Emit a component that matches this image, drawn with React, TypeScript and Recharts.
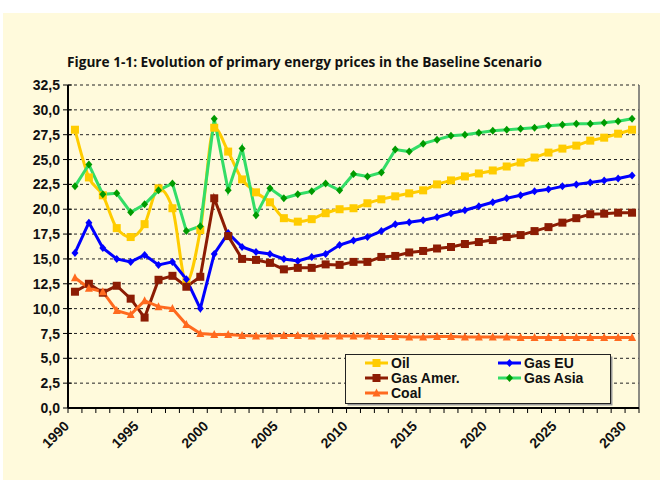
import React from 'react';
import { LineChart, Line, XAxis, YAxis, CartesianGrid, ReferenceLine } from 'recharts';

const years = [
  1990, 1991, 1992, 1993, 1994, 1995, 1996, 1997, 1998, 1999, 2000,
  2001, 2002, 2003, 2004, 2005, 2006, 2007, 2008, 2009, 2010,
  2011, 2012, 2013, 2014, 2015, 2016, 2017, 2018, 2019, 2020,
  2021, 2022, 2023, 2024, 2025, 2026, 2027, 2028, 2029, 2030,
];

const oil = [
  28.0, 23.2, 21.4, 18.1, 17.2, 18.5, 22.1, 20.1, 12.7, 17.9, 28.2,
  25.8, 23.0, 21.7, 20.7, 19.1, 18.75, 19.0, 19.6, 20.0, 20.1,
  20.6, 21.0, 21.3, 21.6, 21.9, 22.5, 22.9, 23.3, 23.6, 23.9,
  24.3, 24.7, 25.2, 25.7, 26.1, 26.4, 26.9, 27.2, 27.6, 28.0,
];

const gasEU = [
  15.6, 18.65, 16.1, 15.0, 14.7, 15.4, 14.4, 14.7, 12.95, 10.0, 15.5,
  17.6, 16.2, 15.7, 15.5, 15.0, 14.8, 15.2, 15.5, 16.4, 16.85,
  17.2, 17.8, 18.5, 18.7, 18.9, 19.2, 19.6, 19.9, 20.3, 20.7,
  21.1, 21.4, 21.8, 22.0, 22.3, 22.5, 22.7, 22.9, 23.1, 23.4,
];

const gasAmer = [
  11.7, 12.5, 11.6, 12.3, 11.0, 9.1, 12.9, 13.3, 12.2, 13.2, 21.1,
  17.3, 15.0, 14.9, 14.6, 13.95, 14.1, 14.1, 14.45, 14.4, 14.7,
  14.7, 15.2, 15.3, 15.65, 15.8, 16.05, 16.2, 16.5, 16.7, 16.9,
  17.2, 17.4, 17.8, 18.2, 18.65, 19.1, 19.5, 19.55, 19.65, 19.65,
];

const gasAsia = [
  22.3, 24.5, 21.5, 21.6, 19.7, 20.5, 21.9, 22.6, 17.8, 18.3, 29.1,
  21.9, 26.1, 19.4, 22.1, 21.1, 21.5, 21.8, 22.6, 21.9, 23.55,
  23.3, 23.7, 26.0, 25.8, 26.6, 27.0, 27.4, 27.5, 27.7, 27.9,
  28.0, 28.1, 28.2, 28.4, 28.5, 28.6, 28.6, 28.7, 28.85, 29.1,
];

const coal = [
  13.1, 12.05, 11.7, 9.8, 9.4, 10.8, 10.2, 10.0, 8.4, 7.5, 7.4,
  7.4, 7.3, 7.25, 7.25, 7.3, 7.3, 7.25, 7.25, 7.25, 7.25,
  7.25, 7.2, 7.2, 7.15, 7.15, 7.2, 7.2, 7.15, 7.15, 7.15,
  7.15, 7.1, 7.1, 7.1, 7.1, 7.1, 7.1, 7.1, 7.1, 7.1,
];

const yTicks = [0, 2.5, 5, 7.5, 10, 12.5, 15, 17.5, 20, 22.5, 25, 27.5, 30, 32.5];
const labelYears = [1990, 1995, 2000, 2005, 2010, 2015, 2020, 2025, 2030];

const titleText = 'Figure 1-1: Evolution of primary energy prices in the Baseline Scenario';

const data = years.map((year, i) => ({
  year,
  oil: oil[i],
  gasEU: gasEU[i],
  gasAmer: gasAmer[i],
  gasAsia: gasAsia[i],
  coal: coal[i],
}));

const boundaries = [...years.map((y) => y - 0.5), years[years.length - 1] + 0.5];
const xTicks = [...boundaries, ...labelYears].sort((a, b) => a - b);
const xDomain: [number, number] = [boundaries[0], boundaries[boundaries.length - 1]];

const FONT = '"Liberation Sans", Arial, sans-serif';
const CREAM = '#FFFADC';

type Shape = 'square' | 'diamond' | 'triangle';

function marker(shape: Shape, color: string, s: number, cx: number, cy: number, key?: any) {
  if (cx == null || cy == null) return null;
  if (shape === 'square') {
    return <rect key={key} x={cx - s / 2} y={cy - s / 2} width={s} height={s} fill={color} />;
  }
  if (shape === 'diamond') {
    const h = s / 2;
    return (
      <polygon
        key={key}
        points={`${cx},${cy - h - 0.5} ${cx + h},${cy} ${cx},${cy + h + 0.5} ${cx - h},${cy}`}
        fill={color}
      />
    );
  }
  const h = s / 2;
  return (
    <polygon
      key={key}
      points={`${cx},${cy - h - 0.5} ${cx + h},${cy + h - 0.5} ${cx - h},${cy + h - 0.5}`}
      fill={color}
    />
  );
}

const seriesDefs = [
  { key: 'oil', name: 'Oil', line: '#FFCC00', mark: '#FFCC00', shape: 'square' as Shape, size: 8, type: 'monotone' as const },
  { key: 'gasEU', name: 'Gas EU', line: '#0000FF', mark: '#0000FF', shape: 'diamond' as Shape, size: 7, type: 'linear' as const },
  { key: 'gasAmer', name: 'Gas Amer.', line: '#8C1C03', mark: '#8C1C03', shape: 'square' as Shape, size: 8, type: 'linear' as const },
  { key: 'gasAsia', name: 'Gas Asia', line: '#33DD66', mark: '#009A00', shape: 'diamond' as Shape, size: 7, type: 'linear' as const },
  { key: 'coal', name: 'Coal', line: '#FF6A1F', mark: '#FF6A1F', shape: 'triangle' as Shape, size: 8, type: 'linear' as const },
];

const YTick = (props: any) => {
  const { x, y, payload } = props;
  const label = Number(payload.value).toFixed(1).replace('.', ',');
  return (
    <g>
      <line x1={x - 5} x2={x + 4} y1={y} y2={y} stroke="#000" strokeWidth={1} />
      <text
        x={x - 8}
        y={y}
        dy="0.36em"
        textAnchor="end"
        fontFamily={FONT}
        fontWeight="bold"
        fontSize={14}
        fill="#111"
      >
        {label}
      </text>
    </g>
  );
};

const XTick = (props: any) => {
  const { x, y, payload } = props;
  const v = Number(payload.value);
  if (Number.isInteger(v)) {
    const px = x - 5;
    const py = y + 19;
    return (
      <text
        x={px}
        y={py}
        textAnchor="end"
        transform={`rotate(-45 ${px} ${py})`}
        fontFamily={FONT}
        fontWeight="bold"
        fontSize={14}
        fill="#111"
      >
        {v}
      </text>
    );
  }
  return <line x1={x} x2={x} y1={y} y2={y + 5} stroke="#000" strokeWidth={1} />;
};

const legendRows = [
  { x: 365, y: 363, s: seriesDefs[0] },
  { x: 498, y: 363, s: seriesDefs[1] },
  { x: 365, y: 378, s: seriesDefs[2] },
  { x: 498, y: 378, s: seriesDefs[3] },
  { x: 365, y: 393, s: seriesDefs[4] },
];

export default function App() {
  return (
    <div style={{ position: 'absolute', left: 0, top: 0, width: 660, height: 480, background: '#fff', overflow: 'hidden' }}>
      <div style={{ position: 'absolute', left: 3, top: 13, width: 657, height: 467, background: CREAM }} />
      <div style={{ position: 'absolute', left: 0, top: 0 }}>
        <LineChart width={660} height={480} data={data} margin={{ top: 85, right: 21, bottom: 0, left: 8 }}>
          <CartesianGrid horizontal vertical={false} stroke="#222" strokeDasharray="3 3" />
          <ReferenceLine x={xDomain[1]} stroke="#666" strokeWidth={1.5} ifOverflow="extendDomain" />
          <XAxis
            dataKey="year"
            type="number"
            domain={xDomain}
            ticks={xTicks}
            interval={0}
            allowDataOverflow
            tickSize={0}
            tickMargin={0}
            tickLine={false}
            height={72}
            axisLine={{ stroke: '#000', strokeWidth: 2 }}
            tick={<XTick />}
          />
          <YAxis
            type="number"
            domain={[0, 32.5]}
            ticks={yTicks}
            interval={0}
            allowDataOverflow
            tickSize={0}
            tickMargin={0}
            tickLine={false}
            width={60}
            axisLine={{ stroke: '#000', strokeWidth: 2 }}
            tick={<YTick />}
          />
          {seriesDefs.map((s) => (
            <Line
              key={s.key}
              dataKey={s.key}
              name={s.name}
              type={s.type}
              stroke={s.line}
              strokeWidth={3}
              isAnimationActive={false}
              dot={(p: any) => marker(s.shape, s.mark, s.size, p.cx, p.cy, `${s.key}-${p.index}`)}
              activeDot={false}
            />
          ))}
        </LineChart>
      </div>
      <svg width={660} height={480} style={{ position: 'absolute', left: 0, top: 0, pointerEvents: 'none' }}>
        <text
          x={67}
          y={67}
          textLength={475}
          lengthAdjust="spacingAndGlyphs"
          fontFamily='"Open Sans", "Noto Sans", sans-serif'
          fontWeight="bold"
          fontSize={14.5}
          fill="#111"
        >
          {titleText}
        </text>
        <rect x={347.5} y={356.5} width={265} height={49} fill="#999" />
        <rect x={345.5} y={354.5} width={265} height={49} fill={CREAM} stroke="#222" strokeWidth={1} />
        {legendRows.map((r) => (
          <g key={r.s.key}>
            <line x1={r.x} x2={r.x + 23} y1={r.y} y2={r.y} stroke={r.s.line} strokeWidth={3} />
            {marker(r.s.shape, r.s.mark, r.s.size, r.x + 11.5, r.y)}
            <text
              x={r.x + 26}
              y={r.y + 5}
              fontFamily={FONT}
              fontWeight="bold"
              fontSize={14}
              fill="#111"
            >
              {r.s.name}
            </text>
          </g>
        ))}
      </svg>
    </div>
  );
}
